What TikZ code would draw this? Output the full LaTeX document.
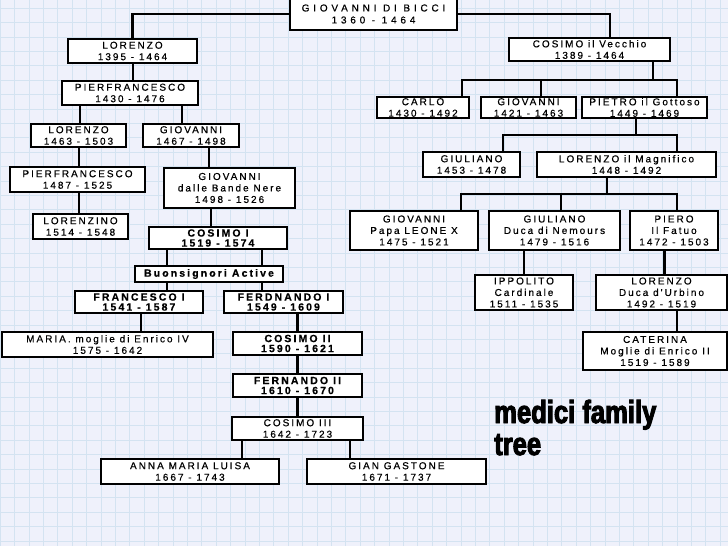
\documentclass[tikz,border=0pt]{standalone}
\usepackage{fontspec}
\setmainfont{Liberation Sans}
\newfontfamily\boxfont[LetterSpace=20,FakeBold=0.5]{Liberation Sans}
\newfontfamily\widefont[LetterSpace=38,FakeBold=0.5]{Liberation Sans}
\newfontfamily\titlefont[FakeStretch=0.8,FakeBold=3]{Liberation Sans}
\usetikzlibrary{backgrounds}
\definecolor{paper}{HTML}{EFF1FB}
\definecolor{gridblue}{HTML}{D4E3F1}

\begin{document}
\begin{tikzpicture}[x=1pt,y=-1pt]
\tikzstyle{person}=[draw, line width=2.2pt, fill=white, inner sep=0pt, outer sep=0pt, align=center, font=\boxfont\fontsize{10}{11.5}\selectfont]
\tikzstyle{ruler}=[person, font=\boxfont\bfseries\fontsize{10.5}{10}\selectfont]
\tikzstyle{link}=[line width=2.2pt]
\tikzstyle{gridline}=[gridblue, line width=0.5pt]
\useasboundingbox (0,0) rectangle (728,546);

% first line, Giovanni and his two sons
\node[person, font=\widefont\fontsize{10}{12}\selectfont, minimum width=167pt, minimum height=32pt] (gdb) at (373.5,14) {GIOVANNI DI BICCI\\1360 - 1464};
\node[person, minimum width=129pt, minimum height=24pt] (lor1) at (132.5,51) {LORENZO\\1395 - 1464};
\node[person, minimum width=161pt, minimum height=23pt] (cov) at (589.5,49.5) {COSIMO il Vecchio\\1389 - 1464};

% branch of Lorenzo
\node[person, minimum width=136pt, minimum height=24pt] (pf1) at (130,93) {PIERFRANCESCO\\1430 - 1476};
\node[person, minimum width=95pt, minimum height=23pt] (lor2) at (78.5,135.5) {LORENZO\\1463 - 1503};
\node[person, minimum width=96pt, minimum height=23pt] (gio2) at (191,135.5) {GIOVANNI\\1467 - 1498};
\node[person, minimum width=135pt, minimum height=25pt] (pf2) at (77.5,179.5) {PIERFRANCESCO\\1487 - 1525};
\node[person, minimum width=95pt, minimum height=25pt] (lzino) at (80.5,226.5) {LORENZINO\\1514 - 1548};
\node[person, minimum width=131pt, minimum height=40pt] (gbn) at (229.5,188) {GIOVANNI\\dalle Bande Nere\\1498 - 1526};
\node[ruler, minimum width=138pt, minimum height=22pt] (cos1) at (218,238) {COSIMO I\\1519 - 1574};
\node[ruler, minimum width=148pt, minimum height=16pt] (buon) at (209,274) {Buonsignori Active};
\node[ruler, minimum width=128pt, minimum height=22pt] (fra1) at (139,302) {FRANCESCO I\\1541 - 1587};
\node[ruler, minimum width=119pt, minimum height=22pt] (fer1) at (283.5,302) {FERDNANDO I\\1549 - 1609};
\node[person, minimum width=211pt, minimum height=25pt] (maria) at (107.5,344.5) {MARIA. moglie di Enrico IV\\1575 - 1642};
\node[ruler, minimum width=129pt, minimum height=23pt] (cos2) at (297.5,343.5) {COSIMO II\\1590 - 1621};
\node[ruler, minimum width=129pt, minimum height=23pt] (fer2) at (297.5,385.5) {FERNANDO II\\1610 - 1670};
\node[person, minimum width=131pt, minimum height=23pt] (cos3) at (297.5,428.5) {COSIMO III\\1642 - 1723};
\node[person, minimum width=178pt, minimum height=25pt] (anna) at (190,471.5) {ANNA MARIA LUISA\\1667 - 1743};
\node[person, minimum width=179pt, minimum height=25pt] (gian) at (396.5,471.5) {GIAN GASTONE\\1671 - 1737};

% branch of Cosimo il Vecchio
\node[person, minimum width=92pt, minimum height=21pt] (carlo) at (423,107.5) {CARLO\\1430 - 1492};
\node[person, minimum width=95pt, minimum height=21pt] (gio3) at (528.5,107.5) {GIOVANNI\\1421 - 1463};
\node[person, minimum width=125pt, minimum height=21pt] (pie) at (644.5,107.5) {PIETRO il Gottoso\\1449 - 1469};
\node[person, minimum width=97pt, minimum height=25pt] (giu1) at (471.5,164.5) {GIULIANO\\1453 - 1478};
\node[person, minimum width=179pt, minimum height=25pt] (lmag) at (626.5,164.5) {LORENZO il Magnifico\\1448 - 1492};
\node[person, minimum width=128pt, minimum height=39pt] (leo) at (414,230.5) {GIOVANNI\\Papa LEONE X\\1475 - 1521};
\node[person, minimum width=131pt, minimum height=39pt] (giu2) at (554.5,230.5) {GIULIANO\\Duca di Nemours\\1479 - 1516};
\node[person, minimum width=88pt, minimum height=39pt] (piero) at (674,230.5) {PIERO\\Il Fatuo\\1472 - 1503};
\node[person, minimum width=98pt, minimum height=35pt] (ipp) at (524,292.5) {IPPOLITO\\Cardinale\\1511 - 1535};
\node[person, minimum width=131pt, minimum height=35pt] (lurb) at (661.5,292.5) {LORENZO\\Duca d'Urbino\\1492 - 1519};
\node[person, minimum width=144pt, minimum height=38pt] (cat) at (655,351) {CATERINA\\Moglie di Enrico II\\1519 - 1589};

\node[anchor=base west, inner sep=0pt, align=left, font=\titlefont\bfseries\fontsize{32}{32}\selectfont] (title) at (494,455) {medici family\\tree};

\coordinate (cbar) at (653,80);
\coordinate (pbar) at (636,135);
\coordinate (lbar) at (607,194);

\begin{scope}[on background layer]
\fill[paper] (0,0) rectangle (728,546);
\foreach \gx in {0,14.4,...,728.1}
  \draw[gridline] (\gx,0) -- (\gx,546);
\foreach \gy in {8,22.4,...,546.1}
  \draw[gridline] (0,\gy) -- (728,\gy);

\draw[link] (gdb.west) -| (lor1.north);
\draw[link] (gdb.east) -| ([xshift=20.5pt]cov.north);
\draw[link] ([xshift=3pt]pf1.north) |- (lor1.south);
\draw[link] ([xshift=1.5pt]lor2.north) |- (pf1.south);
\draw[link] ([xshift=-9pt]gio2.north) |- (pf1.south);
\draw[link] ([xshift=1.5pt]pf2.north) |- (lor2.south);
\draw[link] ([xshift=-1.5pt]lzino.north) |- (pf2.south);
\draw[link] ([xshift=-20.5pt]gbn.north) |- (gio2.south);
\draw[link] ([xshift=-7pt]cos1.north) |- (gbn.south);
\draw[link] ([xshift=28pt]fra1.north) |- (cos1.south);
\draw[link] ([xshift=-21.5pt]fer1.north) |- (cos1.south);
\draw[link] ([xshift=33.5pt]maria.north) |- (fra1.south);
\draw[link] (cos2.north) |- (fer1.south);
\draw[link] (fer2.north) -- (cos2.south);
\draw[link] (cos3.north) -- (fer2.south);
\draw[link] ([xshift=52pt]anna.north) |- (cos3.south);
\draw[link] ([xshift=-46.5pt]gian.north) |- (cos3.south);

\draw[link] ([xshift=63.5pt]cov.south) -- (cbar);
\draw[link] ([xshift=39pt]carlo.north) |- (cbar) -| ([xshift=32.5pt]pie.north);
\draw[link] ([xshift=12.5pt]gio3.north) |- (cbar);
\draw[link] ([xshift=-8.5pt]pie.south) -- (pbar);
\draw[link] ([xshift=31.5pt]giu1.north) |- (pbar) -| ([xshift=50.5pt]lmag.north);
\draw[link] ([xshift=-19.5pt]lmag.south) -- (lbar);
\draw[link] ([xshift=47pt]leo.north) |- (lbar) -| ([xshift=3pt]piero.north);
\draw[link] ([xshift=6.5pt]giu2.north) |- (lbar);
\draw[link] (ipp.north) |- (giu2.south);
\draw[link] ([xshift=3pt]lurb.north) |- (piero.south);
\draw[link] ([xshift=22pt]cat.north) |- (lurb.south);
\end{scope}
\end{tikzpicture}
\end{document}
